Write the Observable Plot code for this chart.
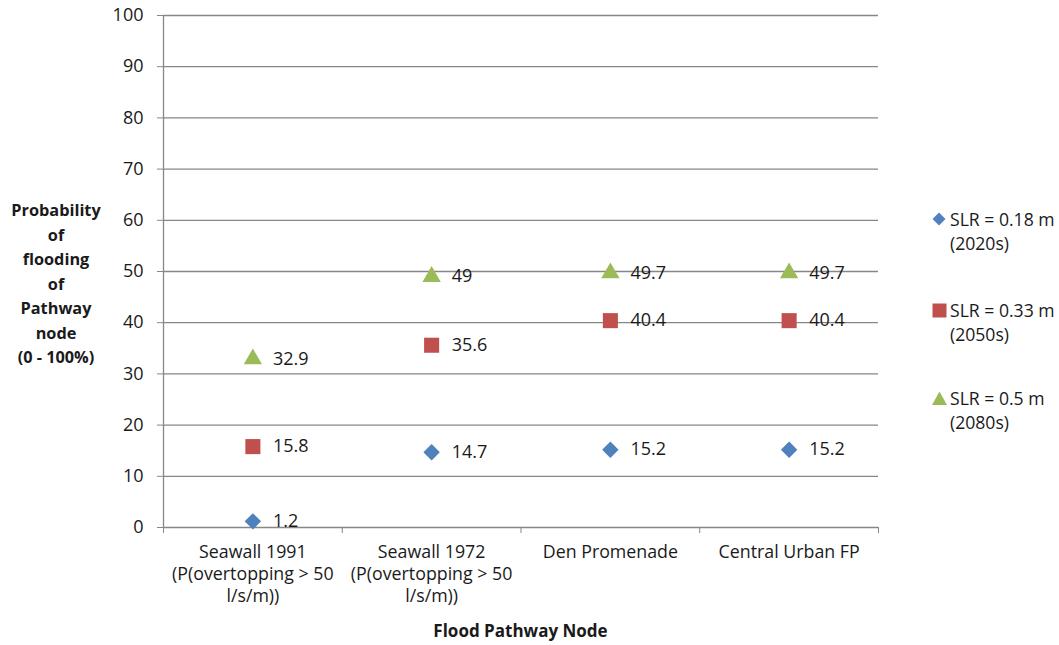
<!DOCTYPE html>
<html>
<head>
<meta charset="utf-8">
<script src="https://cdn.jsdelivr.net/npm/d3@7"></script>
<script src="https://cdn.jsdelivr.net/npm/@observablehq/plot@0.6"></script>
<style>
  html, body { margin: 0; padding: 0; background: #fff; }
  #wrap { position: relative; width: 1059px; height: 645px; font-family: "Open Sans", sans-serif; color: #1a1a1a; }
  #chart { position: absolute; left: 0; top: 0; }
  .ylab { position: absolute; left: 0; top: 198px; width: 112px; text-align: center; font-weight: bold; font-size: 16.3px; line-height: 24.5px; }
  .xlab { position: absolute; left: 163px; width: 715px; top: 619px; text-align: center; font-weight: bold; font-size: 17px; }
  .legend { position: absolute; left: 932px; top: 0; font-size: 17.6px; line-height: 24px; }
  .legend .item { position: absolute; left: 0; padding-left: 18px; white-space: nowrap; }
  .legend svg { position: absolute; left: 0; top: 5px; }
</style>
</head>
<body>
<div id="wrap">
  <div id="chart"></div>
  <div class="ylab">Probability<br>of<br>flooding<br>of<br>Pathway<br>node<br>(0 - 100%)</div>
  <div class="xlab">Flood Pathway Node</div>
  <div class="legend" id="legend"></div>
</div>
<script>
const categories = [
  "Seawall 1991\n(P(overtopping > 50\nl/s/m))",
  "Seawall 1972\n(P(overtopping > 50\nl/s/m))",
  "Den Promenade",
  "Central Urban FP"
];
const seriesNames = ["SLR = 0.18 m (2020s)", "SLR = 0.33 m (2050s)", "SLR = 0.5 m (2080s)"];
const slr018 = [1.2, 14.7, 15.2, 15.2];
const slr033 = [15.8, 35.6, 40.4, 40.4];
const slr05 = [32.9, 49, 49.7, 49.7];
const yTicks = [0, 10, 20, 30, 40, 50, 60, 70, 80, 90, 100];

const colors = ["#4F81BD", "#C0504D", "#9BBB59"];
const symbols = ["diamond2", "square", "triangle"];
const radii = [7.4, 8.5, 6.8];

const seriesValues = [slr018, slr033, slr05];
const rows = [];
seriesValues.forEach((vals, s) => {
  vals.forEach((v, i) => rows.push({series: seriesNames[s], s, pos: i + 0.5, value: v}));
});

const marks = [
  Plot.gridY(yTicks, {stroke: "#878787", strokeOpacity: 1, strokeWidth: 1.3}),
  Plot.ruleX([0], {stroke: "#878787", strokeWidth: 1.3}),
  Plot.axisY(yTicks, {tickSize: 6, tickPadding: 14, stroke: "#878787", fontSize: 18, fill: "#1a1a1a", label: null, tickFormat: d => String(d)}),
  Plot.axisX([0, 1, 2, 3, 4], {tickSize: 6, stroke: "#878787", tickFormat: () => "", label: null}),
  Plot.axisX([0.5, 1.5, 2.5, 3.5], {tickSize: 0, tickPadding: 15, fontSize: 17.8, lineHeight: 1.24, fill: "#1a1a1a", label: null, tickFormat: d => categories[Math.floor(d)]})
];
for (let s = 0; s < 3; s++) {
  const data = rows.filter(r => r.s === s);
  marks.push(Plot.dot(data, {x: "pos", y: "value", symbol: () => symbols[s], r: radii[s], fill: colors[s], stroke: null}));
  marks.push(Plot.text(data, {x: "pos", y: "value", text: d => String(d.value), dx: 20, textAnchor: "start", fontSize: 18, fill: "#1a1a1a"}));
}

const plot = Plot.plot({
  width: 1059,
  height: 645,
  marginLeft: 163,
  marginRight: 181,
  marginTop: 15,
  marginBottom: 118,
  style: {fontFamily: "Open Sans, sans-serif", background: "#fff"},
  x: {type: "linear", domain: [0, 4], axis: null},
  y: {domain: [0, 100], axis: null},
  symbol: {type: "identity"},
  marks
});
document.getElementById("chart").appendChild(plot);

// legend
const legend = document.getElementById("legend");
const legendLines = [["SLR = 0.18 m", "(2020s)"], ["SLR = 0.33 m", "(2050s)"], ["SLR = 0.5 m", "(2080s)"]];
const legendTops = [207, 298, 386];
const shapes = [
  '<polygon points="7,0.5 13.5,7 7,13.5 0.5,7" fill="' + colors[0] + '"/>',
  '<rect x="0.5" y="0.5" width="14" height="14" fill="' + colors[1] + '"/>',
  '<polygon points="7.5,0.5 15,14 0,14" fill="' + colors[2] + '"/>'
];
legendLines.forEach((l, i) => {
  const d = document.createElement("div");
  d.className = "item";
  d.style.top = legendTops[i] + "px";
  d.innerHTML = '<svg width="15" height="15">' + shapes[i] + '</svg>' + l[0] + '<br>' + l[1];
  legend.appendChild(d);
});
</script>
</body>
</html>
